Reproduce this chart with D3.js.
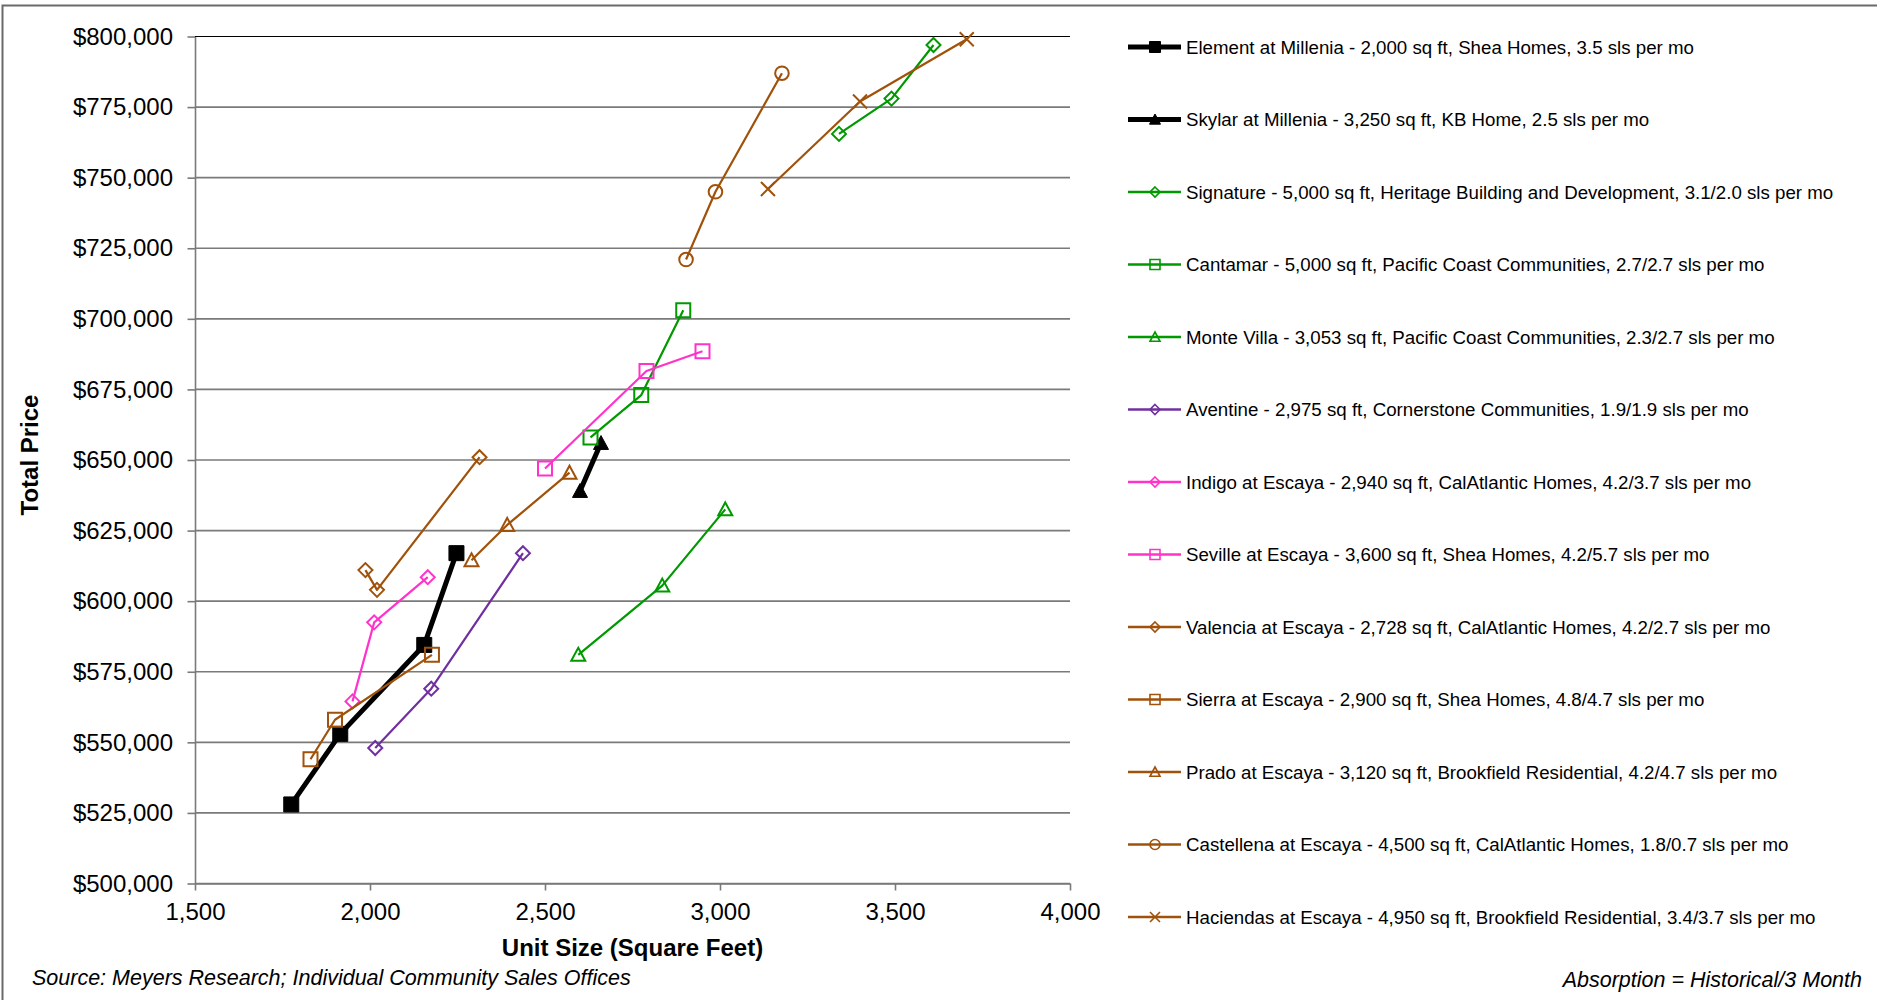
<!DOCTYPE html>
<html>
<head>
<meta charset="utf-8">
<script src="https://cdn.jsdelivr.net/npm/d3@7"></script>
<style>
  body { margin: 0; background: #fff; }
  text { font-family: "Liberation Sans", Arial, sans-serif; fill: #000; }
</style>
</head>
<body>
<div id="chart"></div>
<script>
// series names, as shown in the legend
var seriesNames = [
  "Element at Millenia - 2,000 sq ft, Shea Homes, 3.5 sls per mo",
  "Skylar at Millenia - 3,250 sq ft, KB Home, 2.5 sls per mo",
  "Signature - 5,000 sq ft, Heritage Building and Development, 3.1/2.0 sls per mo",
  "Cantamar - 5,000 sq ft, Pacific Coast Communities, 2.7/2.7 sls per mo",
  "Monte Villa - 3,053 sq ft, Pacific Coast Communities, 2.3/2.7 sls per mo",
  "Aventine - 2,975 sq ft, Cornerstone Communities, 1.9/1.9 sls per mo",
  "Indigo at Escaya - 2,940 sq ft, CalAtlantic Homes, 4.2/3.7 sls per mo",
  "Seville at Escaya - 3,600 sq ft, Shea Homes, 4.2/5.7 sls per mo",
  "Valencia at Escaya - 2,728 sq ft, CalAtlantic Homes, 4.2/2.7 sls per mo",
  "Sierra at Escaya - 2,900 sq ft, Shea Homes, 4.8/4.7 sls per mo",
  "Prado at Escaya - 3,120 sq ft, Brookfield Residential, 4.2/4.7 sls per mo",
  "Castellena at Escaya - 4,500 sq ft, CalAtlantic Homes, 1.8/0.7 sls per mo",
  "Haciendas at Escaya - 4,950 sq ft, Brookfield Residential, 3.4/3.7 sls per mo"
];

// unit sizes (sq ft) per series
var unitSizes = [
  [1775, 1915, 2155, 2247],
  [2600, 2660],
  [3340, 3490, 3610],
  [2630, 2775, 2895],
  [2595, 2835, 3015],
  [2015, 2175, 2437],
  [1950, 2012, 2165],
  [2500, 2790, 2950],
  [1987, 2020, 2313],
  [1830, 1900, 2177],
  [2290, 2392, 2570],
  [2903, 2987, 3177],
  [3137, 3400, 3705]
];

// total prices per series
var prices = [
  [528000, 553000, 584500, 617000],
  [639000, 656000],
  [765500, 778000, 797000],
  [658000, 673000, 703000],
  [581000, 605500, 632500],
  [548000, 569000, 617000],
  [564500, 592500, 608500],
  [647000, 681500, 688500],
  [611000, 604000, 651000],
  [544000, 558000, 581000],
  [614500, 627000, 645500],
  [721000, 745000, 787000],
  [746000, 777000, 799000]
];

var xTicks = [1500, 2000, 2500, 3000, 3500, 4000];
var yTicks = [500000, 525000, 550000, 575000, 600000, 625000, 650000, 675000, 700000, 725000, 750000, 775000, 800000];

// styles
var black = "#000000", green = "#009900", purple = "#7030A0", pink = "#FF33CC", brown = "#A0520A";
var colors  = [black, black, green, green, green, purple, pink, pink, brown, brown, brown, brown, brown];
var markers = ["square", "triangle", "diamond", "square", "triangle", "diamond", "diamond", "square", "diamond", "square", "triangle", "circle", "cross"];
var filled  = [true, true, false, false, false, false, false, false, false, false, false, false, false];
var lineW   = [5, 5, 2.2, 2.2, 2.2, 2.2, 2.2, 2.2, 2.2, 2.2, 2.2, 2.2, 2.2];

var width = 1877, height = 1000;
var plot = {left: 195, right: 1070, top: 36.5, bottom: 883.5};

var svg = d3.select("#chart").append("svg")
    .attr("width", width)
    .attr("height", height);

// chart frame
svg.append("rect")
    .attr("x", 2.5).attr("y", 5.5)
    .attr("width", width + 10).attr("height", height + 10)
    .attr("fill", "none")
    .attr("stroke", "#6a6a6a")
    .attr("stroke-width", 2);

var x = d3.scaleLinear().domain([1500, 4000]).range([plot.left, plot.right]);
var y = d3.scaleLinear().domain([500000, 800000]).range([plot.bottom, plot.top]);

// gridlines
svg.append("g").selectAll("line")
    .data(yTicks)
  .enter().append("line")
    .attr("x1", plot.left).attr("x2", plot.right)
    .attr("y1", function(d) { return y(d); })
    .attr("y2", function(d) { return y(d); })
    .attr("stroke", function(d) { return d == 800000 ? "#000" : "#7a7a7a"; })
    .attr("stroke-width", function(d) { return d == 800000 ? 1.2 : 1.6; });

var yAxis = svg.append("g")
    .attr("transform", "translate(" + plot.left + ",0)")
    .call(d3.axisLeft(y).tickValues(yTicks).tickSize(7.5).tickSizeOuter(0).tickPadding(14.5)
      .tickFormat(function(d) { return "$" + d3.format(",")(d); }));

var xAxis = svg.append("g")
    .attr("transform", "translate(0," + plot.bottom + ")")
    .call(d3.axisBottom(x).tickValues(xTicks).tickSize(7).tickSizeOuter(0).tickPadding(12)
      .tickFormat(d3.format(",")));

[yAxis, xAxis].forEach(function(a) {
  a.select(".domain").attr("stroke", "#7a7a7a").attr("stroke-width", 1.6);
  a.selectAll(".tick line").attr("stroke", "#7a7a7a").attr("stroke-width", 1.6);
  a.selectAll("text")
    .style("font-family", "'Liberation Sans', Arial, sans-serif")
    .style("font-size", "24px")
    .attr("fill", "#000");
});

// axis titles
svg.append("text")
    .attr("x", (plot.left + plot.right) / 2)
    .attr("y", 955.5)
    .attr("text-anchor", "middle")
    .style("font-size", "24px")
    .style("font-weight", "bold")
    .text("Unit Size (Square Feet)");

svg.append("text")
    .attr("transform", "translate(38," + ((plot.top + plot.bottom) / 2 - 5) + ") rotate(-90)")
    .attr("text-anchor", "middle")
    .style("font-size", "24px")
    .style("font-weight", "bold")
    .text("Total Price");

// marker shape paths, r = half size
function markerPath(type, r) {
  if (type == "square") return "M" + (-r) + "," + (-r) + "h" + (2 * r) + "v" + (2 * r) + "h" + (-2 * r) + "Z";
  if (type == "diamond") return "M0," + (-r) + "L" + r + ",0L0," + r + "L" + (-r) + ",0Z";
  if (type == "triangle") return "M0," + (-r) + "L" + r + "," + (r * 0.85) + "L" + (-r) + "," + (r * 0.85) + "Z";
  if (type == "circle") return "M" + (-r) + ",0A" + r + "," + r + " 0 1,0 " + r + ",0A" + r + "," + r + " 0 1,0 " + (-r) + ",0Z";
  return "M" + (-r) + "," + (-r) + "L" + r + "," + r + "M" + r + "," + (-r) + "L" + (-r) + "," + r;
}
var markerR = {square: 7, diamond: 7, triangle: 7, circle: 6.8, cross: 7};

var line = d3.line()
    .x(function(d) { return x(d[0]); })
    .y(function(d) { return y(d[1]); });

var series = seriesNames.map(function(name, i) {
  return {name: name, i: i, pts: unitSizes[i].map(function(s, j) { return [s, prices[i][j]]; })};
});

var sg = svg.append("g").selectAll("g")
    .data(series)
  .enter().append("g");

sg.append("path")
    .attr("d", function(d) { return line(d.pts); })
    .attr("fill", "none")
    .attr("stroke", function(d) { return colors[d.i]; })
    .attr("stroke-width", function(d) { return lineW[d.i]; })
    .attr("stroke-linejoin", "round");

sg.each(function(d) {
  d3.select(this).selectAll(".mk")
      .data(d.pts)
    .enter().append("path")
      .attr("class", "mk")
      .attr("transform", function(p) { return "translate(" + x(p[0]) + "," + y(p[1]) + ")"; })
      .attr("d", markerPath(markers[d.i], markerR[markers[d.i]] + (filled[d.i] ? 0.5 : 0)))
      .attr("fill", filled[d.i] ? colors[d.i] : "none")
      .attr("stroke", colors[d.i])
      .attr("stroke-width", filled[d.i] ? 1 : 2);
});

// legend
var legend = svg.append("g").selectAll("g")
    .data(series)
  .enter().append("g")
    .attr("transform", function(d) { return "translate(1128," + (47 + d.i * 72.5) + ")"; });

legend.append("line")
    .attr("x1", 0).attr("x2", 53)
    .attr("stroke", function(d) { return colors[d.i]; })
    .attr("stroke-width", function(d) { return filled[d.i] ? 5 : 2.5; });

legend.append("path")
    .attr("transform", "translate(27,0)")
    .attr("d", function(d) { return markerPath(markers[d.i], filled[d.i] ? 5.5 : 5); })
    .attr("fill", function(d) { return filled[d.i] ? colors[d.i] : "none"; })
    .attr("stroke", function(d) { return colors[d.i]; })
    .attr("stroke-width", function(d) { return filled[d.i] ? 1 : 1.6; });

legend.append("text")
    .attr("x", 58)
    .attr("dy", "0.35em")
    .style("font-size", "18.7px")
    .text(function(d) { return d.name; });

// notes
svg.append("text")
    .attr("x", 32).attr("y", 984.5)
    .style("font-size", "21.5px")
    .style("font-style", "italic")
    .text("Source: Meyers Research; Individual Community Sales Offices");

svg.append("text")
    .attr("x", 1862).attr("y", 986.5)
    .attr("text-anchor", "end")
    .style("font-size", "21.5px")
    .style("font-style", "italic")
    .text("Absorption = Historical/3 Month");
</script>
</body>
</html>
